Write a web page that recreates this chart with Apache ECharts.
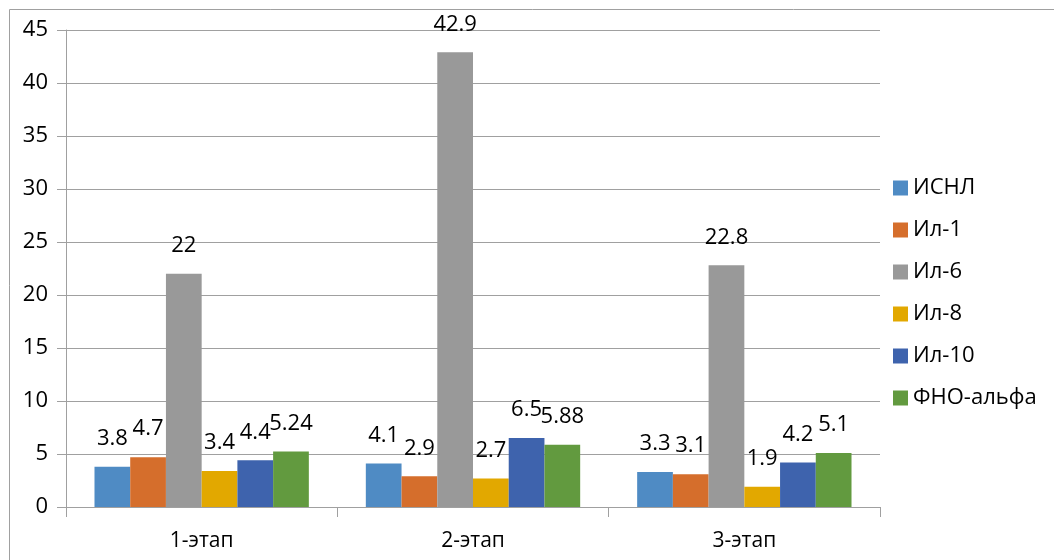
<!DOCTYPE html>
<html lang="ru">
<head>
    <meta charset="UTF-8">
    <title>Chart</title>
    <script src="https://cdn.jsdelivr.net/npm/echarts@6/dist/echarts.min.js"></script>
    <style>
        html, body { margin: 0; padding: 0; background: #fff; }
        #main { width: 1054px; height: 560px; }
    </style>
</head>
<body>
<div id="main"></div>
<script>
    var categories = ['1-этап', '2-этап', '3-этап'];
    var seriesNames = ['ИСНЛ', 'Ил-1', 'Ил-6', 'Ил-8', 'Ил-10', 'ФНО-альфа'];
    var isnl = [3.8, 4.1, 3.3];
    var il1 = [4.7, 2.9, 3.1];
    var il6 = [22, 42.9, 22.8];
    var il8 = [3.4, 2.7, 1.9];
    var il10 = [4.4, 6.5, 4.2];
    var fno = [5.24, 5.88, 5.1];
    var values = [isnl, il1, il6, il8, il10, fno];
    var colors = ['#4f8bc4', '#d56e2c', '#999999', '#e2a800', '#3e63ad', '#629a3f'];

    var font = '"Open Sans", "Noto Sans", sans-serif';
    var series = [];
    for (var i = 0; i < seriesNames.length; i++) {
        series.push({
            name: seriesNames[i],
            type: 'bar',
            barGap: '0%',
            barCategoryGap: '21%',
            itemStyle: { color: colors[i] },
            label: {
                show: true,
                position: 'top',
                distance: 17,
                color: '#000',
                fontSize: 22,
                fontFamily: font
            },
            data: values[i]
        });
    }

    var myChart = echarts.init(document.getElementById('main'));
    var option = {
        animation: false,
        textStyle: { fontFamily: font },
        color: colors,
        graphic: [{
            type: 'rect',
            shape: { x: 9.5, y: 9.5, width: 1050, height: 560 },
            style: { fill: 'none', stroke: '#a0a0a0', lineWidth: 1 }
        }],
        legend: {
            orient: 'vertical',
            left: 888,
            top: 172,
            itemWidth: 15,
            itemHeight: 15,
            itemGap: 20,
            icon: 'rect',
            textStyle: { fontSize: 22, color: '#000', fontFamily: font },
            data: seriesNames
        },
        grid: {
            left: 66,
            right: 174,
            top: 30,
            bottom: 53
        },
        xAxis: {
            type: 'category',
            data: categories,
            axisLine: { lineStyle: { color: '#a0a0a0', width: 1 } },
            axisTick: { show: true, length: 10, alignWithLabel: false, lineStyle: { color: '#a0a0a0' } },
            axisLabel: { fontSize: 21, color: '#000', margin: 24, fontFamily: font }
        },
        yAxis: {
            type: 'value',
            min: 0,
            max: 45,
            interval: 5,
            axisLine: { show: true, lineStyle: { color: '#a0a0a0', width: 1 } },
            axisTick: { show: true, length: 9, lineStyle: { color: '#a0a0a0' } },
            axisLabel: { fontSize: 22, color: '#000', margin: 18, fontFamily: font },
            splitLine: { lineStyle: { color: '#a0a0a0', width: 1 } }
        },
        series: series
    };
    myChart.setOption(option);
</script>
</body>
</html>
